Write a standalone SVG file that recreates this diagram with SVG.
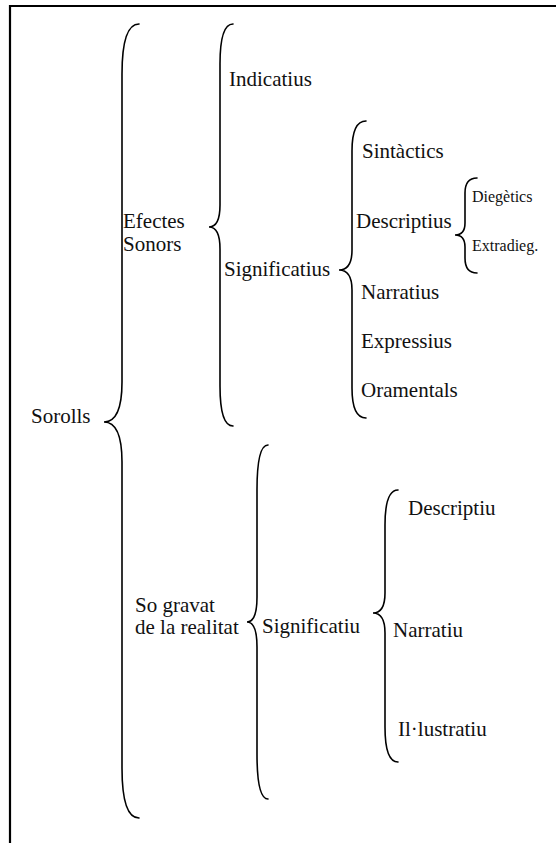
<svg xmlns="http://www.w3.org/2000/svg" width="556" height="843" viewBox="0 0 556 843">
<style>
.t{font-family:"Liberation Serif","Times New Roman",serif;font-size:21px;fill:#111}
.s{font-family:"Liberation Serif","Times New Roman",serif;font-size:16px;fill:#111}
.b{fill:none;stroke:#000;stroke-width:1.6;stroke-linecap:round}
.frame{fill:none;stroke:#000;stroke-width:2.2}
</style>
<rect width="556" height="843" fill="#fff"/>
<path class="frame" d="M10,843 V6 H556"/>
<g id="connectors">
<path class="b" d="M139,24 Q122,24 122,74 L122,382 Q122,422 104,422 Q122,422 122,462 L122,768 Q122,818 139,818"/>
<path class="b" d="M233,24 Q220,24 220,64 L220,205 Q220,227 209,227 Q220,227 220,249 L220,386 Q220,426 233,426"/>
<path class="b" d="M366,121 Q352,121 352,151 L352,250 Q352,270 339,270 Q352,270 352,290 L352,388 Q352,418 366,418"/>
<path class="b" d="M477,178 Q465,178 465,193 L465,223 Q465,235 455,235 Q465,235 465,247 L465,258 Q465,273 477,273"/>
<path class="b" d="M268,445 Q257,445 257,490 L257,597 Q257,622 247,622 Q257,622 257,647 L257,754 Q257,799 268,799"/>
<path class="b" d="M398,490 Q385,490 385,525 L385,593 Q385,613 373,613 Q385,613 385,633 L385,727 Q385,762 398,762"/>
</g>
<g id="n-sorolls"><text class="t" x="31" y="423">Sorolls</text></g>
<g id="n-efectes"><text class="t" x="123" y="228">Efectes</text><text class="t" x="123" y="251">Sonors</text></g>
<g id="n-indicatius"><text class="t" x="229" y="86">Indicatius</text></g>
<g id="n-significatius"><text class="t" x="224" y="276">Significatius</text></g>
<g id="n-sintactics"><text class="t" x="362" y="158">Sintàctics</text></g>
<g id="n-descriptius"><text class="t" x="356" y="228">Descriptius</text></g>
<g id="n-diegetics"><text class="s" x="472" y="202">Diegètics</text></g>
<g id="n-extradieg"><text class="s" x="472" y="251">Extradieg.</text></g>
<g id="n-narratius"><text class="t" x="361" y="299">Narratius</text></g>
<g id="n-expressius"><text class="t" x="361" y="348">Expressius</text></g>
<g id="n-oramentals"><text class="t" x="361" y="397">Oramentals</text></g>
<g id="n-sogravat"><text class="t" x="135" y="612">So gravat</text><text class="t" x="135" y="634">de la realitat</text></g>
<g id="n-significatiu"><text class="t" x="262" y="633">Significatiu</text></g>
<g id="n-descriptiu"><text class="t" x="408" y="515">Descriptiu</text></g>
<g id="n-narratiu"><text class="t" x="393" y="637">Narratiu</text></g>
<g id="n-illustratiu"><text class="t" x="398" y="736">Il·lustratiu</text></g>
</svg>
